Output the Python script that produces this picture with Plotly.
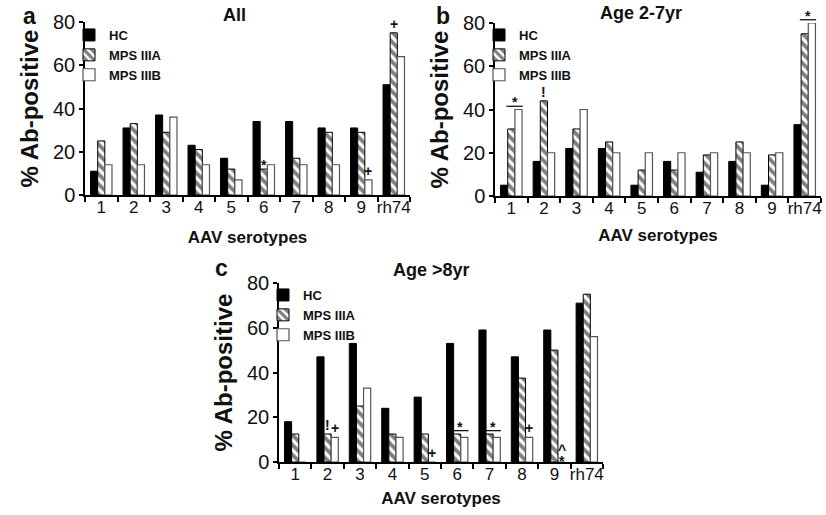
import plotly.graph_objects as go

# ---------------- data ----------------
serotypes = ["1", "2", "3", "4", "5", "6", "7", "8", "9", "rh74"]
series_names = ["HC", "MPS IIIA", "MPS IIIB"]

all_hc = [11, 31, 37, 23, 17, 34, 34, 31, 31, 51]
all_iiia = [25, 33, 29, 21, 12, 12, 17, 29, 29, 75]
all_iiib = [14, 14, 36, 14, 7, 14, 14, 14, 7, 64]

young_hc = [5, 16, 22, 22, 5, 16, 11, 16, 5, 33]
young_iiia = [31, 44, 31, 25, 12, 12, 19, 25, 19, 75]
young_iiib = [40, 20, 40, 20, 20, 20, 20, 20, 20, 80]

old_hc = [18, 47, 53, 24, 29, 53, 59, 47, 59, 71]
old_iiia = [12.5, 12.5, 25, 12.5, 12.5, 12.5, 12.5, 37.5, 50, 75]
old_iiib = [0, 11, 33, 11, 0, 11, 11, 11, 0, 56]

panel_titles = ["All", "Age 2-7yr", "Age >8yr"]
panel_letters = ["a", "b", "c"]
y_ticks = [0, 20, 40, 60, 80]
x_title = "AAV serotypes"
y_title = "% Ab-positive"

# significance marks: (category index, series index, symbol)
marks_a = [(5, 1, "*"), (8, 2, "+"), (9, 1, "+")]
marks_b = [(1, 1, "!")]
marks_c = [(1, 1, "!"), (1, 2, "+"), (4, 2, "+"), (7, 2, "+"), (8, 2, "*"), (8, 2, "^")]
# brackets over MPS IIIA / MPS IIIB with a symbol: (category index, symbol)
brackets_a = []
brackets_b = [(0, "*"), (9, "*")]
brackets_c = [(5, "*"), (6, "*")]

# ---------------- figure ----------------
W, H = 826, 515
YMAX = y_ticks[-1]
FONT = "Liberation Sans, Arial, Helvetica, sans-serif"

panels = [
    dict(vals=[all_hc, all_iiia, all_iiib], marks=marks_a, brackets=brackets_a,
         px=(85, 410), py=(195, 22), leg=(69, 20), title=(234, 15), letter=(29, 16),
         xstand=15, sfx=""),
    dict(vals=[young_hc, young_iiia, young_iiib], marks=marks_b, brackets=brackets_b,
         px=(495, 821), py=(196, 23), leg=(479, 20), title=(641, 13), letter=(443, 16),
         xstand=12, sfx="2"),
    dict(vals=[old_hc, old_iiia, old_iiib], marks=marks_c, brackets=brackets_c,
         px=(279, 603), py=(462, 283), leg=(263, 280), title=(431, 270), letter=(222, 268),
         xstand=9, sfx="3"),
]

bar_w = 0.22  # fraction of a category per bar (bargap 0.34)
offsets = [-bar_w, 0.0, bar_w]

fig = go.Figure()
annotations = []
shapes = []

styles = [
    dict(color="black", line=dict(color="black", width=1)),
    dict(color="white", pattern=dict(shape="\\", fgcolor="black", bgcolor="white", size=7, solidity=0.55),
         line=dict(color="black", width=1)),
    dict(color="white", line=dict(color="#555555", width=1.2)),
]

layout = {}
for i, p in enumerate(panels):
    sfx = p["sfx"]
    xa, ya = "x" + sfx, "y" + sfx
    yd = ya + " domain"
    leg = "legend" + sfx
    for s in range(3):
        fig.add_trace(go.Bar(
            x=serotypes, y=p["vals"][s], name=series_names[s],
            marker=styles[s], xaxis=xa, yaxis=ya, legend=leg, cliponaxis=False,
        ))
    x0, x1 = p["px"]
    yb, yt = p["py"]
    layout["xaxis" + sfx] = dict(
        domain=[x0 / W, x1 / W], anchor=ya, type="category", automargin=False,
        showline=True, linecolor="black", linewidth=1.5, mirror=False,
        ticks="outside", tickson="boundaries", ticklen=5, tickwidth=1.5, tickcolor="black",
        tickangle=0, ticklabelstandoff=-4, tickfont=dict(family=FONT, size=17, color="#111"),
        showgrid=False, zeroline=False,
        title=dict(text=x_title, font=dict(family=FONT, size=17, color="#111", weight="bold"),
                   standoff=p["xstand"]),
    )
    layout["yaxis" + sfx] = dict(
        domain=[1 - yb / H, 1 - yt / H], anchor=xa, range=[0, YMAX], automargin=False,
        tickvals=y_ticks, showline=True, linecolor="black", linewidth=1.5,
        ticks="outside", ticklen=4, tickwidth=1.5, tickcolor="black",
        tickfont=dict(family=FONT, size=20, color="#111"),
        showgrid=False, zeroline=False,
        title=dict(text=y_title, font=dict(family=FONT, size=24, color="#111", weight="bold"), standoff=8),
    )
    lx, ly = p["leg"]
    layout[leg] = dict(
        x=lx / W, y=1 - ly / H, xanchor="left", yanchor="top", xref="paper", yref="paper",
        bgcolor="rgba(0,0,0,0)", borderwidth=0, tracegroupgap=0,
        font=dict(family=FONT, size=13, color="#111", weight="bold"),
    )
    tx, ty = p["title"]
    annotations.append(dict(text=panel_titles[i], x=tx / W, y=1 - ty / H, xref="paper", yref="paper",
                            showarrow=False, xanchor="center", yanchor="middle",
                            font=dict(family=FONT, size=18, color="#111", weight="bold")))
    cx, cy = p["letter"]
    annotations.append(dict(text=panel_letters[i], x=cx / W, y=1 - cy / H, xref="paper", yref="paper",
                            showarrow=False, xanchor="center", yanchor="middle",
                            font=dict(family=FONT, size=23, color="#111", weight="bold")))
    # significance marks (y given as fraction of the axis range so marks above the top stay visible)
    seen = {}
    for (c, s, sym) in p["marks"]:
        key = (c, s)
        lvl = seen.get(key, 0)
        seen[key] = lvl + 1
        shift = {"*": -6, "+": -1, "!": -1, "^": -7}[sym] + lvl * 9
        if sym == "*" and p["vals"][s][c] == 0:
            shift = -9
        annotations.append(dict(text=sym, x=c + offsets[s], y=p["vals"][s][c] / YMAX, xref=xa, yref=yd,
                                showarrow=False, xanchor="center", yanchor="bottom", yshift=shift,
                                font=dict(family=FONT, size=14, color="#111", weight="bold")))
    for (c, sym) in p["brackets"]:
        top = max(p["vals"][1][c], p["vals"][2][c])
        yline = (top + 1.5) / YMAX
        shapes.append(dict(type="line", xref=xa, yref=yd, x0=c - 0.15, x1=c + 0.35, y0=yline, y1=yline,
                           line=dict(color="black", width=1.2)))
        annotations.append(dict(text=sym, x=c + 0.1, y=yline, xref=xa, yref=yd,
                                showarrow=False, xanchor="center", yanchor="bottom", yshift=-6,
                                font=dict(family=FONT, size=14, color="#111", weight="bold")))

fig.update_layout(
    width=W, height=H, margin=dict(l=0, r=0, t=0, b=0, autoexpand=False),
    paper_bgcolor="white", plot_bgcolor="white",
    barmode="group", bargap=0.34, bargroupgap=0,
    showlegend=True, annotations=annotations, shapes=shapes,
    font=dict(family=FONT, color="#111"),
    **layout,
)

fig.write_html("out.html", config={"displayModeBar": False},
               post_script="document.body.style.margin='0px';")
